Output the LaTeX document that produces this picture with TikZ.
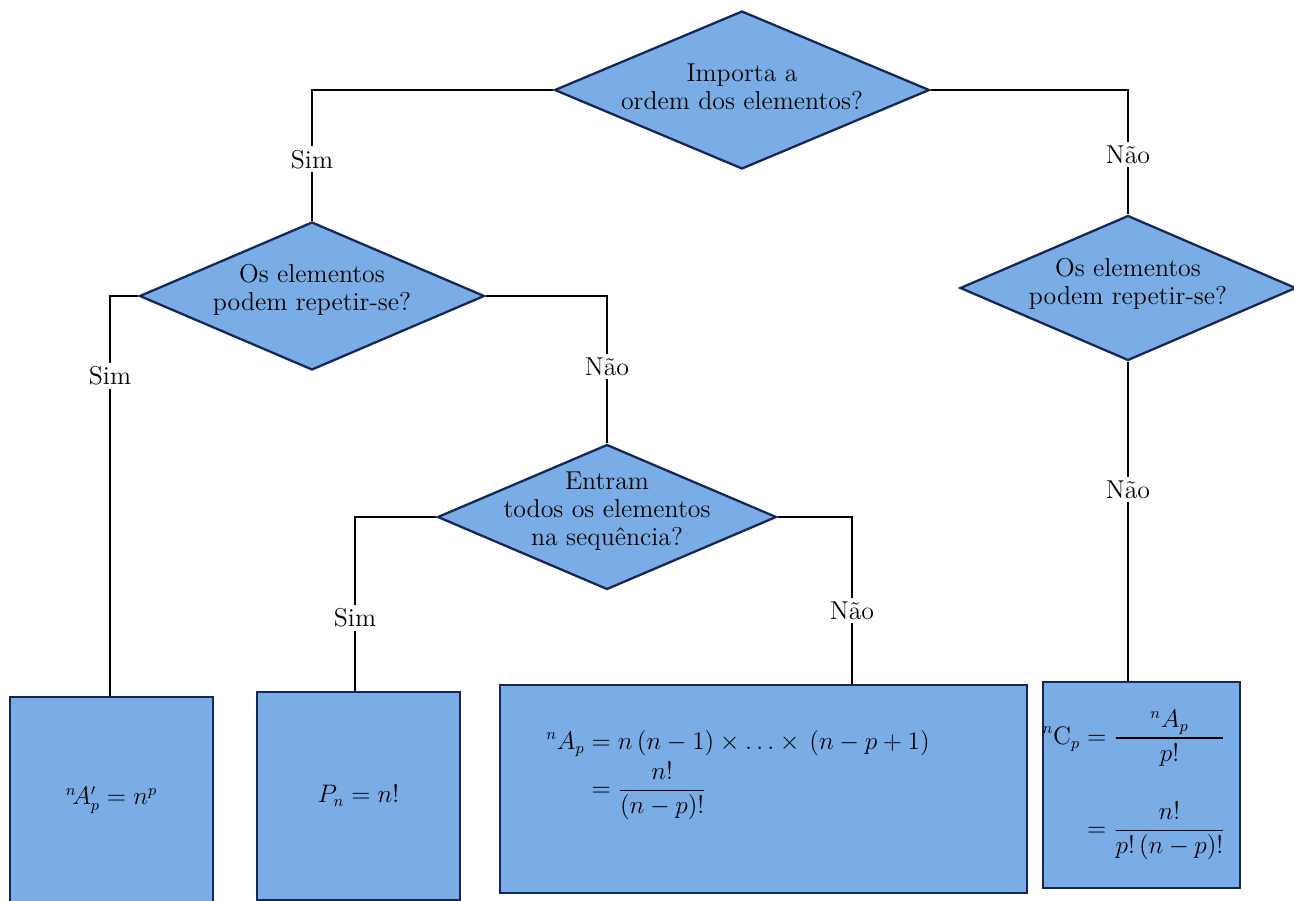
\documentclass[tikz,border=0pt]{standalone}
\usepackage{amsmath}
\usepackage{mathtools}
\usepackage{calc}
\usetikzlibrary{shapes.geometric}
\definecolor{azul}{RGB}{122,173,229}
\definecolor{azulesc}{RGB}{22,38,86}
\begin{document}
\begin{tikzpicture}[x=0.02cm,y=-0.02cm,line width=1pt,
  losango/.style={diamond,draw=azulesc,line width=1.3pt,fill=azul,inner sep=0pt},
  caixa/.style={rectangle,draw=azulesc,line width=1.3pt,fill=azul,inner sep=0pt},
  txt/.style={align=center,font=\fontsize{14.7}{16}\selectfont},
  formula/.style={font=\fontsize{13.4}{16}\selectfont},
  resp/.style={fill=white,inner sep=2pt,font=\fontsize{14.7}{16}\selectfont}]
  \useasboundingbox (0,0) rectangle (1294,900);
  % perguntas
  \node[losango,minimum width=7.5cm,minimum height=3.16cm,
    label={[txt,yshift=0.06cm]center:Importa a\\ordem dos elementos?}] (ordem) at (742,90) {};
  \node[losango,minimum width=6.9cm,minimum height=2.96cm,
    label={[txt,yshift=0.12cm]center:Os elementos\\podem repetir-se?}] (repA) at (312,296) {};
  \node[losango,minimum width=6.72cm,minimum height=2.9cm,
    label={[txt,yshift=0.08cm]center:Os elementos\\podem repetir-se?}] (repB) at (1128,288) {};
  \node[losango,minimum width=6.78cm,minimum height=2.9cm,
    label={[txt,yshift=0.12cm]center:Entram\\todos os elementos\\na sequência?}] (todos) at (607,517) {};
  % resultados
  \node[caixa,minimum width=4.06cm,minimum height=4.12cm,formula] (arrrep) at (111.5,800)
    {${}^{n}\!A'_{p}=n^{p}$};
  \node[caixa,minimum width=4.06cm,minimum height=4.16cm,formula] (perm) at (358.5,796)
    {$P_{n}=n!$};
  \node[caixa,minimum width=10.54cm,minimum height=4.16cm] (arr) at (763.5,789) {};
  \node[formula] (farr) at (738,775) {$\begin{aligned}{}^{n}A_{p}&=n\,(n-1)\times\ldots\times\,(n-p+1)\\[-2pt]
    &=\dfrac{n!}{(n-p)!}\end{aligned}$};
  \node[caixa,minimum width=3.94cm,minimum height=4.12cm] (comb) at (1141.5,785) {};
  \node[formula] (fcomb) at (1134,785) {$\begin{aligned}{}^{n}\mathrm{C}_{p}&=\dfrac{\mathmakebox[\widthof{$p!\,(n-p)!$}]{{}^{n}A_{p}}}{p!}\\[16pt]
    &=\dfrac{n!}{p!\,(n-p)!}\end{aligned}$};
  % ligacoes
  \draw (ordem.west) -| node[resp,pos=0.765] (s1) {Sim} (repA.north);
  \draw (ordem.east) -| node[resp,pos=0.76] (n1) {Não} (repB.north);
  \draw (repA.west) -| node[resp,pos=0.6] (s2) {Sim} ([xshift=-0.03cm]arrrep.north);
  \draw (repA.east) -| node[resp,pos=0.74] (n2) {Não} (todos.north);
  \draw (todos.west) -| node[resp,pos=0.79] (s3) {Sim} ([xshift=-0.07cm]perm.north);
  \draw (todos.east) -| node[resp,pos=0.78] (n3) {Não} ([xshift=1.77cm]arr.north);
  \draw (repB.south) -- node[resp,pos=0.4] (n4) {Não} (repB.south |- comb.north);
\end{tikzpicture}
\end{document}
